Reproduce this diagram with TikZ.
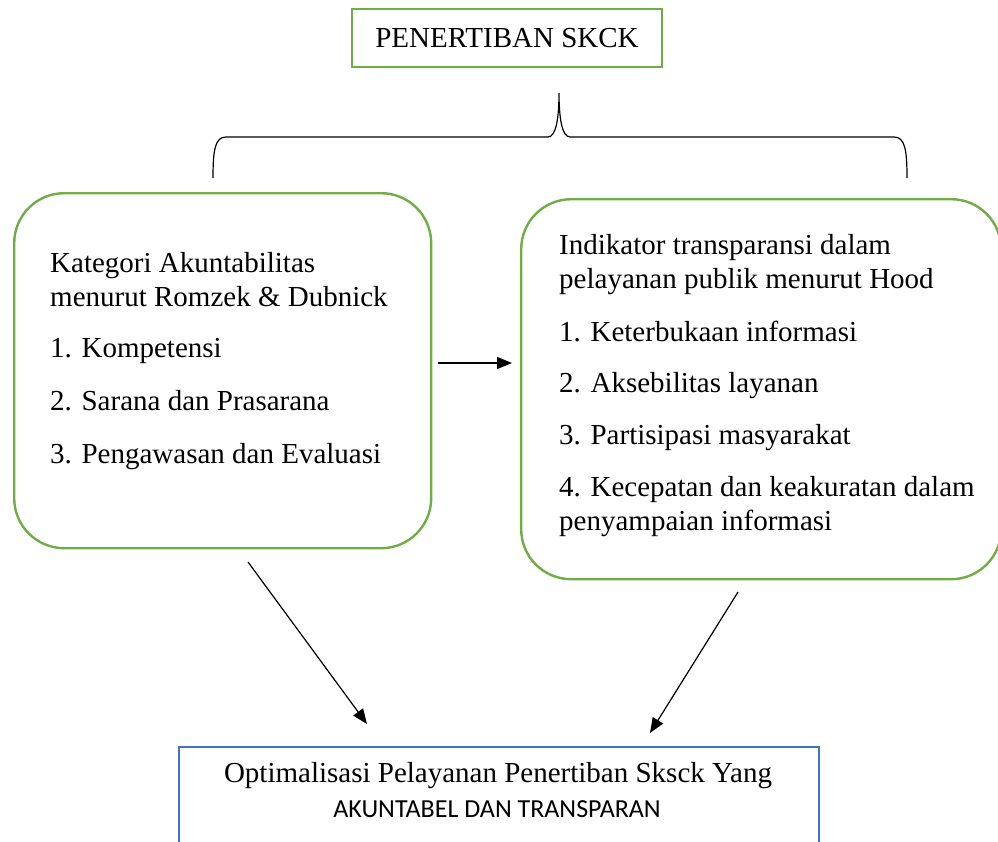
\documentclass[tikz,border=0pt]{standalone}
\usepackage{fontspec}
\setmainfont{Liberation Serif}
\newfontfamily\calibrifont{Carlito}
\usetikzlibrary{arrows.meta,positioning}
\definecolor{boxgreen}{RGB}{112,173,71}
\definecolor{boxblue}{RGB}{68,114,196}
\tikzset{%
  >={Triangle[width=12pt,length=15pt]},
  % Specifications for style of nodes:
           base/.style = {rectangle, draw, inner sep=0pt, line width=2.4pt},
       titlebox/.style = {base, draw=boxgreen, minimum width=310pt, minimum height=58pt,
                          font=\fontsize{29}{34}\selectfont},
      theorybox/.style = {base, draw=boxgreen, rounded corners=50pt, anchor=north west},
      resultbox/.style = {base, draw=boxblue, anchor=north west},
       itemtext/.style = {anchor=north west, align=left, inner sep=0pt,
                          font=\fontsize{29}{34}\selectfont},
           link/.style = {->, line width=1.2pt},
}

\begin{document}
\begin{tikzpicture}[x=1pt, y=-1pt]
    \useasboundingbox (0,0) rectangle (998,841);

    \node (skck) [titlebox] at (507,38) {PENERTIBAN SKCK};
    \node (kategori) [theorybox, minimum width=417pt, minimum height=355pt] at (13,192) {};
    \node (indikator) [theorybox, minimum width=480pt, minimum height=380pt] at (520,198) {};
    \node (hasil) [resultbox, minimum width=640pt, minimum height=130pt] at (178,746) {};

    \node (kategoriText) [itemtext] at (50,252) {Kategori Akuntabilitas\\
        menurut Romzek \& Dubnick\\[17pt]
        1. Kompetensi\\[19pt]
        2. Sarana dan Prasarana\\[19pt]
        3. Pengawasan dan Evaluasi};
    \node (indikatorText) [itemtext] at (559,234) {Indikator transparansi dalam\\
        pelayanan publik menurut Hood\\[19pt]
        1. Keterbukaan informasi\\[17pt]
        2. Aksebilitas layanan\\[18pt]
        3. Partisipasi masyarakat\\[18pt]
        4. Kecepatan dan keakuratan dalam\\
        penyampaian informasi};

    \node (hasilTop) [anchor=base, inner sep=0pt, font=\fontsize{29}{34}\selectfont] at (498,782)
        {Optimalisasi Pelayanan Penertiban Sksck Yang};
    \node (hasilBottom) [anchor=base, inner sep=0pt, font=\calibrifont\fontsize{26}{32}\selectfont] at (497,817)
        {AKUNTABEL DAN TRANSPARAN};

    % brace under the title
    \coordinate (braceL) at (213,178);
    \coordinate (braceTip) at (559,93);
    \coordinate (braceR) at (907,178);
    \draw [line width=1.2pt] (braceL) .. controls (213,150) and (215,137) .. (226,137) -- (548,137)
        .. controls (556,137) and (559,118) .. (braceTip)
        .. controls (559,118) and (562,137) .. (570,137) -- (894,137)
        .. controls (905,137) and (907,150) .. (braceR);

    \coordinate (mStart) at (438,363);
    \coordinate (mEnd) at (512,363);
    \coordinate (kStart) at (248,562);
    \coordinate (kEnd) at (367,724);
    \coordinate (iStart) at (738,592);
    \coordinate (iEnd) at (650,733);
    \draw [link] (mStart) -- (mEnd);
    \draw [link] (kStart) -- (kEnd);
    \draw [link] (iStart) -- (iEnd);
\end{tikzpicture}
\end{document}
